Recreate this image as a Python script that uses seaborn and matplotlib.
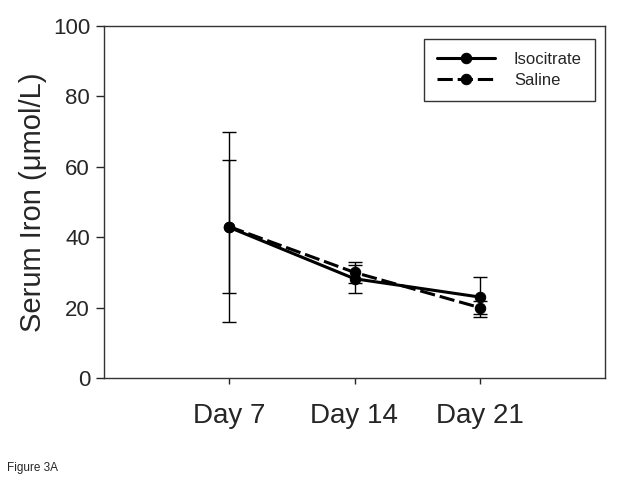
import pandas as pd
import matplotlib
matplotlib.use("Agg")
import matplotlib.pyplot as plt
import seaborn as sns

# values
days = [7, 14, 21]
day_labels = ["Day 7", "Day 14", "Day 21"]
iso_mean = [42.8, 28.2, 23.0]
iso_err = [27.0, 4.0, 5.8]
sal_mean = [43.0, 30.0, 20.0]
sal_err = [18.8, 3.0, 1.9]

sns.set_style("ticks")
plt.rcParams['font.family'] = ['Liberation Sans', 'DejaVu Sans']

df = pd.DataFrame({
    "day": days * 2,
    "iron": iso_mean + sal_mean,
    "group": ["Isocitrate"] * 3 + ["Saline"] * 3,
})

fig = plt.figure(figsize=(6.24, 4.87), dpi=100)
ax = fig.add_axes([104 / 624, 1 - 378 / 487, 501 / 624, 352 / 487])

# error bars first, lines on top
ax.errorbar(days, iso_mean, yerr=iso_err, fmt="none", ecolor="black",
            elinewidth=1.0, capsize=5, capthick=1.0, zorder=2)
ax.errorbar(days, sal_mean, yerr=sal_err, fmt="none", ecolor="black",
            elinewidth=1.0, capsize=5, capthick=1.0, zorder=2)

sns.lineplot(data=df, x="day", y="iron", hue="group", style="group",
             palette={"Isocitrate": "black", "Saline": "black"},
             dashes={"Isocitrate": "", "Saline": (5, 1.6)},
             markers={"Isocitrate": "o", "Saline": "o"},
             markersize=7.5, linewidth=2.2, markeredgecolor="black",
             ax=ax, zorder=3)

ax.set_xlim(0, 28)
ax.set_ylim(0, 100)
ax.set_xticks(days)
ax.set_xticklabels(day_labels, fontsize=20)
ax.set_yticks([0, 20, 40, 60, 80, 100])
ax.tick_params(axis="y", labelsize=16, length=6, width=1, direction="out", pad=4)
ax.tick_params(axis="x", length=4, width=1, direction="out", pad=14)
ax.set_xlabel("")
ax.set_ylabel("Serum Iron (\u03bcmol/L)", fontsize=21, labelpad=4)
for sp in ax.spines.values():
    sp.set_visible(True)
    sp.set_linewidth(1.0)
    sp.set_color("#333333")

leg = ax.legend(loc="upper right", bbox_to_anchor=(595 / 624, 1 - 39 / 487),
                bbox_transform=fig.transFigure, fontsize=12, frameon=True,
                fancybox=False, edgecolor="black", handlelength=3.5,
                handletextpad=1.1, labelspacing=0.32, borderpad=0.8,
                borderaxespad=0)
leg.get_frame().set_linewidth(1.0)

fig.text(7 / 624, 1 - 468 / 487, "Figure 3A", fontsize=8.5, va="center", ha="left")

fig.savefig("out.png", dpi=100, facecolor="white")
